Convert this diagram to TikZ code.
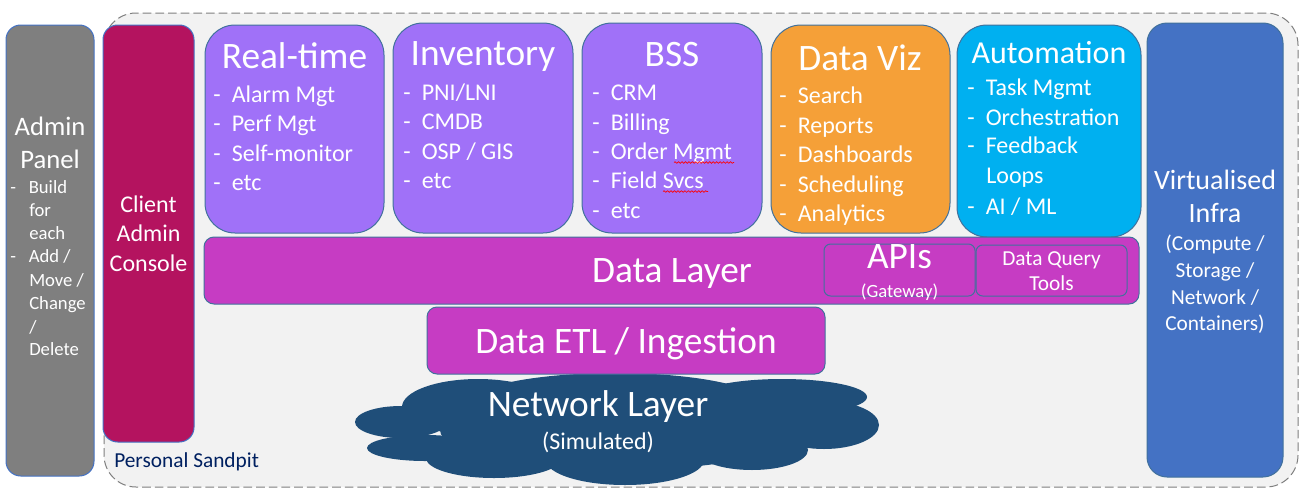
\documentclass[tikz,border=0pt]{standalone}
\usepackage{fontspec}
\setmainfont{Carlito}
\usetikzlibrary{decorations.pathmorphing}
\definecolor{sandbg}{HTML}{F2F2F2}
\definecolor{sandln}{HTML}{7F7F7F}
\definecolor{admingray}{HTML}{7F7F7F}
\definecolor{clientc}{HTML}{B4135F}
\definecolor{purp}{HTML}{A071F8}
\definecolor{dviz}{HTML}{F5A038}
\definecolor{autoc}{HTML}{00B0F0}
\definecolor{virt}{HTML}{4472C4}
\definecolor{datal}{HTML}{C63CC3}
\definecolor{cloudc}{HTML}{1F4E79}
\definecolor{edgec}{HTML}{41719C}
\definecolor{navy}{HTML}{002060}
\newcommand\pbox[6]{\node[pbox,#2,minimum width={(#5-#3)*0.75pt},minimum height={(#6-#4)*0.75pt}] (#1) at ({(#3+#5)/2},{(#4+#6)/2}) {};}
\newcommand\fsz[1]{\fontsize{#1}{#1}\selectfont}
\newcommand\itm[5][]{\node[itm,#1] (#2) at (#3,#4) {\makebox[13.9pt][l]{-}#5};}
\begin{document}
\begin{tikzpicture}[x=0.75pt,y=-0.75pt,
  pbox/.style={draw=edgec,line width=0.75pt,rectangle,inner sep=0pt,outer sep=0pt},
  txt/.style={text=white,inner sep=0pt,anchor=base},
  itm/.style={text=white,inner sep=0pt,anchor=base west,font=\fsz{18}},
  squig/.style={draw=red,line width=0.5pt,decorate,decoration={snake,amplitude=0.6pt,segment length=2.6pt}}]
\useasboundingbox (0,0) rectangle (1306,493);
\fill[white] (0,0) rectangle (1306,493);
% Sandpit
\pbox{sandpit}{fill=sandbg,draw=sandln,dash pattern=on 6.5pt off 3pt,rounded corners=24pt}{104}{13}{1298}{487}
% side panels
\pbox{admin}{fill=admingray,draw=virt,rounded corners=11pt}{6}{25}{94}{476}
\pbox{client}{fill=clientc,draw=virt,rounded corners=11pt}{103}{25}{194}{442}
\pbox{virtinfra}{fill=virt,draw=edgec,rounded corners=15pt}{1147}{23}{1283}{477}
% top boxes
\pbox{rt}{fill=purp,rounded corners=22.5pt}{205}{25}{384}{233}
\pbox{inv}{fill=purp,rounded corners=22.5pt}{393}{23}{573}{233}
\pbox{bss}{fill=purp,rounded corners=22.5pt}{582}{23}{762}{233}
\pbox{dv}{fill=dviz,rounded corners=22.5pt}{771}{25}{950}{233}
\pbox{au}{fill=autoc,rounded corners=22.5pt}{957}{25}{1141}{237}
% data layer
\pbox{dl}{fill=datal,rounded corners=7.5pt}{204}{237}{1139}{304}
\pbox{api}{fill=datal,rounded corners=5pt}{824}{244}{975}{296}
\pbox{dqt}{fill=datal,rounded corners=5pt}{976}{245}{1127}{296}
% cloud
\begin{scope}[cloudc]
\fill (401,422) ellipse [x radius=46, y radius=16];
\fill (425,448) ellipse [x radius=58, y radius=13];
\fill (478,407) ellipse [x radius=76, y radius=28];
\fill (494,458) ellipse [x radius=68, y radius=20];
\fill (625,460) ellipse [x radius=79, y radius=25];
\fill (615,405) ellipse [x radius=150, y radius=32];
\fill (782,397) ellipse [x radius=85, y radius=18];
\fill (824,425) ellipse [x radius=55, y radius=24];
\fill (752,450) ellipse [x radius=56, y radius=20];
\fill (620,430) ellipse [x radius=180, y radius=40];
\end{scope}
% ETL
\pbox{etl}{fill=datal,rounded corners=7.5pt}{427}{307}{825}{374}
% Admin panel text
\node[txt,font=\fsz{20}] (adminA) at (50,135) {Admin};
\node[txt,font=\fsz{20}] (adminB) at (50,168) {Panel};
\itm[font=\fsz{14}]{ad1}{10}{193}{Build}
\node[itm,font=\fsz{14}] (ad2) at (29,216) {for};
\node[itm,font=\fsz{14}] (ad3) at (29,239) {each};
\itm[font=\fsz{14}]{ad4}{10}{262}{Add /}
\node[itm,font=\fsz{14}] (ad5) at (29,286) {Move /};
\node[itm,font=\fsz{14}] (ad6) at (29,309) {Change};
\node[itm,font=\fsz{14}] (ad7) at (29,333) {/};
\node[itm,font=\fsz{14}] (ad8) at (29,355) {Delete};
% Client
\node[txt,font=\fsz{18}] (cl1) at (148.5,212) {Client};
\node[txt,font=\fsz{18}] (cl2) at (148.5,241) {Admin};
\node[txt,font=\fsz{18}] (cl3) at (148.5,271) {Console};
% Real-time
\node[txt,font=\fsz{28}] (rtT) at (294.5,68) {Real-time};
\itm{rt1}{213}{102}{Alarm Mgt}
\itm{rt2}{213}{131.5}{Perf Mgt}
\itm{rt3}{213}{161}{Self-monitor}
\itm{rt4}{213}{190.5}{etc}
% Inventory
\node[txt,font=\fsz{28}] (invT) at (483,65.5) {Inventory};
\itm{inv1}{403}{100}{PNI/LNI}
\itm{inv2}{403}{129}{CMDB}
\itm{inv3}{403}{159}{OSP / GIS}
\itm{inv4}{403}{188}{etc}
% BSS
\node[txt,font=\fsz{28}] (bssT) at (672,66) {BSS};
\itm{bss1}{592}{100}{CRM}
\itm{bss2}{592}{130}{Billing}
\itm{bss3}{592}{159}{Order Mgmt}
\itm{bss4}{592}{188}{Field Svcs}
\itm{bss5}{592}{218}{etc}
\draw[squig] (674,162.5) -- (734,162.5);
\draw[squig] (663,191.5) -- (708,191.5);
% Data Viz
\node[txt,font=\fsz{28}] (dvT) at (860,70) {Data Viz};
\itm{dv1}{779}{103}{Search}
\itm{dv2}{779}{133}{Reports}
\itm{dv3}{779}{162}{Dashboards}
\itm{dv4}{779}{192}{Scheduling}
\itm{dv5}{779}{221}{Analytics}
% Automation
\node[txt,font=\fsz{24}] (auT) at (1049,63) {Automation};
\itm{au1}{967}{95}{Task Mgmt}
\itm{au2}{967}{125}{Orchestration}
\itm{au3}{967}{153}{Feedback}
\node[itm] (au4) at (986,183) {Loops};
\itm{au5}{967}{214}{AI / ML}
% Data layer texts
\node[txt,font=\fsz{28}] (dlT) at (672,282) {Data Layer};
\node[txt,font=\fsz{28}] (apiT) at (899.5,268) {APIs};
\node[txt,font=\fsz{14}] (apiS) at (899.5,297) {(Gateway)};
\node[txt,font=\fsz{16}] (dqt1) at (1051.5,265) {Data Query};
\node[txt,font=\fsz{16}] (dqt2) at (1051.5,290) {Tools};
\node[txt,font=\fsz{28}] (etlT) at (626,353) {Data ETL / Ingestion};
% Network
\node[txt,font=\fsz{28}] (netT) at (598,416) {Network Layer};
\node[txt,font=\fsz{18}] (netS) at (598,449) {(Simulated)};
% Virtualised
\node[txt,font=\fsz{21}] (vi1) at (1215,189) {Virtualised};
\node[txt,font=\fsz{21}] (vi2) at (1215,222) {Infra};
\node[txt,font=\fsz{16}] (vi3) at (1215,250) {(Compute /};
\node[txt,font=\fsz{16}] (vi4) at (1215,277) {Storage /};
\node[txt,font=\fsz{16}] (vi5) at (1215,304) {Network /};
\node[txt,font=\fsz{16}] (vi6) at (1215,330) {Containers)};
% label
\node[inner sep=0pt,anchor=base west,text=navy,font=\fsz{16}] (sandT) at (114,467) {Personal Sandpit};
\end{tikzpicture}
\end{document}
